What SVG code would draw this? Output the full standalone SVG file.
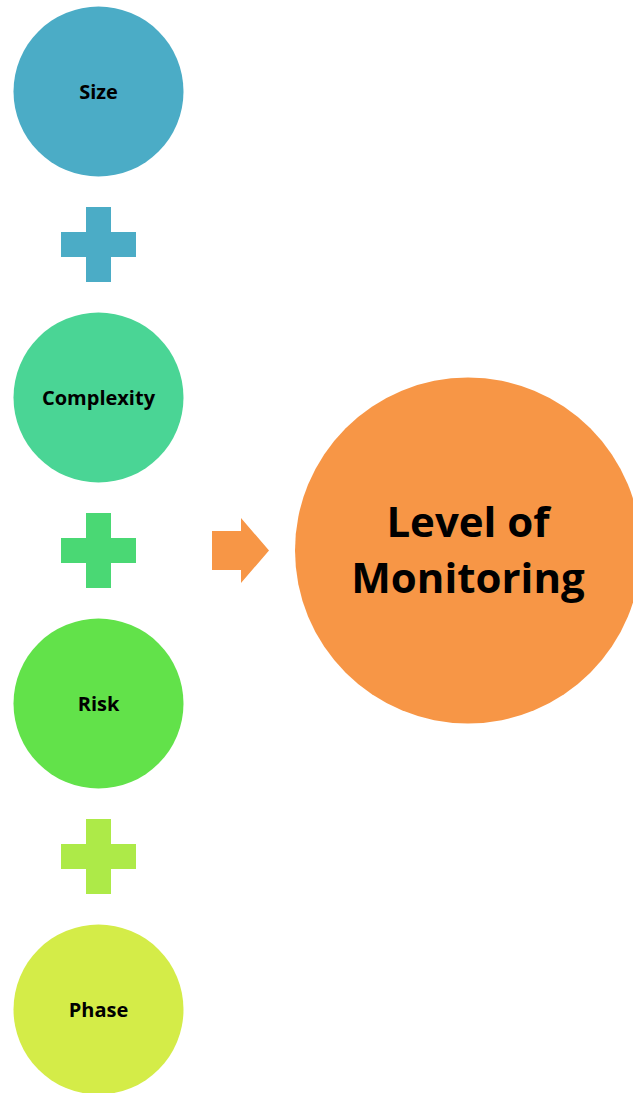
<svg xmlns="http://www.w3.org/2000/svg" width="633" height="1093" viewBox="0 0 633 1093">
<style>
.lbl{font-family:"Open Sans","Liberation Sans",sans-serif;font-weight:bold;font-size:20px;fill:#000;text-anchor:middle}
.big{font-family:"Open Sans","Liberation Sans",sans-serif;font-weight:bold;font-size:42px;fill:#000;text-anchor:middle}
</style>
<defs>
<path id="plus" d="M-12.5,-37.5 H12.5 V-12.5 H37.5 V12.5 H12.5 V37.5 H-12.5 V12.5 H-37.5 V-12.5 H-12.5 Z"/>
</defs>
<rect width="633" height="1093" fill="#fff"/>
<g id="size"><circle cx="98.5" cy="91.5" r="85" fill="#4BACC6"/><text class="lbl" x="98.5" y="98.5">Size</text></g>
<g id="complexity"><circle cx="98.5" cy="397.5" r="85" fill="#4AD595"/><text class="lbl" x="98.5" y="404.5">Complexity</text></g>
<g id="risk"><circle cx="98.5" cy="703.5" r="85" fill="#62E24A"/><text class="lbl" x="98.5" y="710.5">Risk</text></g>
<g id="phase"><circle cx="98.5" cy="1009.5" r="85" fill="#D4EC48"/><text class="lbl" x="98.5" y="1016.5">Phase</text></g>
<g id="level"><circle cx="468" cy="550.5" r="173" fill="#F79646"/><text class="big" x="468" y="537">Level of</text><text class="big" x="468" y="593">Monitoring</text></g>
<g id="connectors">
<use href="#plus" x="98.5" y="244.5" fill="#4BACC6"/>
<use href="#plus" x="98.5" y="550.5" fill="#4AD874"/>
<use href="#plus" x="98.5" y="856.5" fill="#ADEA48"/>
<path d="M212,531 H241 V518 L269,550.5 L241,583 V570 H212 Z" fill="#F79646"/>
</g>
</svg>
